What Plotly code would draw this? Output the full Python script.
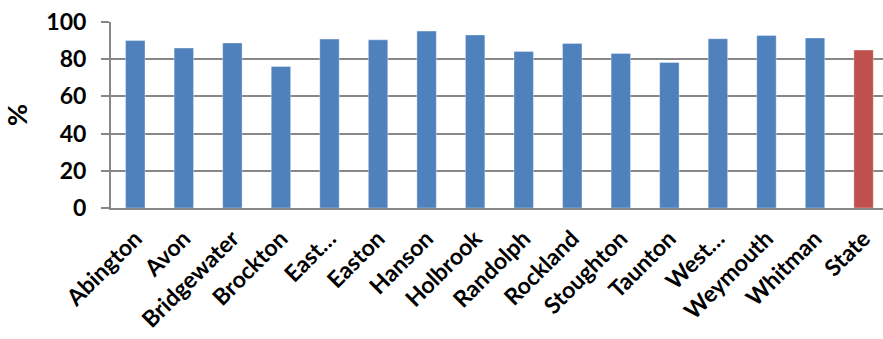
import plotly.graph_objects as go

towns = ["Abington", "Avon", "Bridgewater", "Brockton", "East…", "Easton", "Hanson",
         "Holbrook", "Randolph", "Rockland", "Stoughton", "Taunton", "West…",
         "Weymouth", "Whitman", "State"]
values = [90.1, 86.0, 88.7, 76.1, 90.8, 90.4, 95.1, 93.0, 84.2, 88.5, 83.1, 78.2,
          91.0, 92.8, 91.4, 84.9]
y_ticks = [0, 20, 40, 60, 80, 100]

town_color = "#4F81BD"
state_color = "#C0504D"
colors = [state_color if t == "State" else town_color for t in towns]

fig = go.Figure(go.Bar(
    x=list(range(len(towns))),
    y=values,
    width=0.4,
    marker=dict(color=colors, line=dict(color="rgba(255,255,255,0.35)", width=1)),
    hoverinfo="x+y",
))

font_family = "Lato, 'Open Sans', sans-serif"

fig.update_layout(
    width=883, height=339,
    margin=dict(l=111, r=0, t=22, b=131),
    paper_bgcolor="white", plot_bgcolor="white",
    showlegend=False,
    font=dict(family=font_family, color="black"),
)
fig.update_xaxes(
    tickmode="array",
    tickvals=list(range(len(towns))),
    ticktext=towns,
    tickangle=-45,
    tickfont=dict(family=font_family, size=23, color="black", weight="bold"),
    ticklabelstandoff=6,
    range=[-0.5, 15.4],
    showgrid=False,
    showline=True, linecolor="#878787", linewidth=2,
    ticks="", zeroline=False,
)
fig.update_yaxes(
    range=[0, 100],
    tickmode="array", tickvals=y_ticks,
    tickfont=dict(family=font_family, size=23, color="black", weight="bold"),
    ticklabelstandoff=10,
    showgrid=True, gridcolor="#878787", gridwidth=2,
    showline=True, linecolor="#878787", linewidth=2,
    ticks="outside", ticklen=8, tickcolor="#878787", tickwidth=2,
    zeroline=False,
    title=dict(text="%", font=dict(family=font_family, size=27, color="black", weight="bold"),
               standoff=22),
)

fig.write_html("out.html")
